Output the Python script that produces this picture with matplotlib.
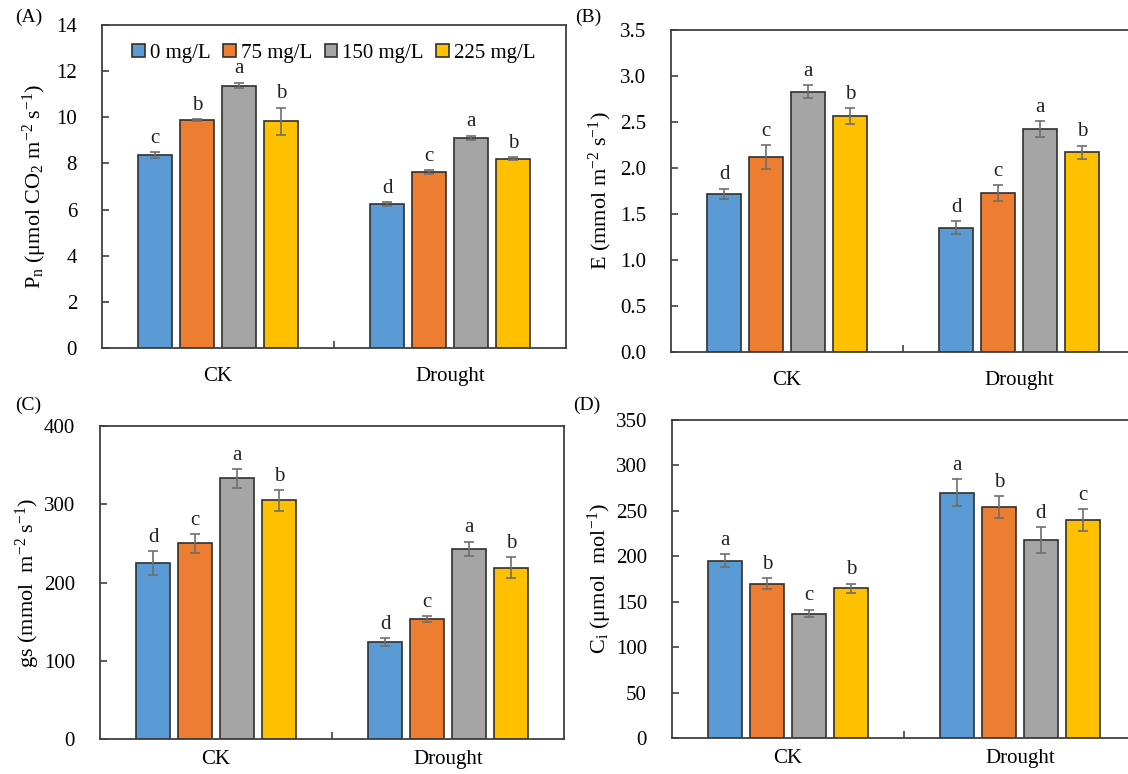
import matplotlib
matplotlib.use("Agg")
import matplotlib.pyplot as plt
import numpy as np

plt.rcParams['font.family'] = ['Liberation Serif', 'DejaVu Serif']
plt.rcParams['mathtext.fontset'] = 'custom'
plt.rcParams['mathtext.rm'] = 'Liberation Serif'
plt.rcParams['mathtext.it'] = 'Liberation Serif:italic'

groups = ["CK", "Drought"]
series = ["0 mg/L", "75 mg/L", "150 mg/L", "225 mg/L"]
colors = ["#5B9BD5", "#ED7D31", "#A5A5A5", "#FFC000"]

# Panel A: Pn
pn_vals = [[8.35, 6.23], [9.87, 7.63], [11.37, 9.10], [9.82, 8.20]]
pn_err = [[0.13, 0.08], [0.04, 0.07], [0.12, 0.10], [0.60, 0.06]]
pn_let = [["c", "d"], ["b", "c"], ["a", "a"], ["b", "b"]]

# Panel B: E
e_vals = [[1.72, 1.35], [2.12, 1.725], [2.83, 2.42], [2.56, 2.17]]
e_err = [[0.056, 0.07], [0.127, 0.087], [0.07, 0.087], [0.087, 0.07]]
e_let = [["d", "d"], ["c", "c"], ["a", "a"], ["b", "b"]]

# Panel C: gs
gs_vals = [[225, 124], [250, 153], [333, 243], [305, 219]]
gs_err = [[15, 5], [12, 4], [12, 9], [13, 13]]
gs_let = [["d", "d"], ["c", "c"], ["a", "a"], ["b", "b"]]

# Panel D: Ci
ci_vals = [[195, 270], [170, 254], [137, 218], [165, 240]]
ci_err = [[7, 15], [6, 12], [4, 14], [5, 12]]
ci_let = [["a", "a"], ["b", "b"], ["c", "d"], ["b", "c"]]

W, H = 1128, 774
fig = plt.figure(figsize=(W / 100, H / 100), dpi=100)

def ax_at(x0, y0, x1, y1):
    return fig.add_axes([x0 / W, 1 - y1 / H, (x1 - x0) / W, (y1 - y0) / H])

panels = [
    dict(box=(102, 25, 566, 348), vals=pn_vals, err=pn_err, let=pn_let, ylim=(0, 14), step=2,
         fmt="{:.0f}", ylabel=r"P$_\mathrm{n}$ (μmol CO$_\mathrm{2}$ m$^\mathrm{-2}$ s$^\mathrm{-1}$)",
         tag="(A)", tagpos=(15, 17), legend=True, lab_x=35, xpad=14),
    dict(box=(671, 30, 1135, 352), vals=e_vals, err=e_err, let=e_let, ylim=(0, 3.5), step=0.5,
         fmt="{:.1f}", ylabel=r"E (mmol m$^\mathrm{-2}$ s$^\mathrm{-1}$)",
         tag="(B)", tagpos=(575, 17), legend=False, lab_x=600, xpad=14),
    dict(box=(100, 426, 564, 739), vals=gs_vals, err=gs_err, let=gs_let, ylim=(0, 400), step=100,
         fmt="{:.0f}", ylabel=r"gs (mmol  m$^\mathrm{-2}$ s$^\mathrm{-1}$)",
         tag="(C)", tagpos=(15, 405), legend=False, lab_x=28, xpad=8),
    dict(box=(672, 420, 1136, 738), vals=ci_vals, err=ci_err, let=ci_let, ylim=(0, 350), step=50,
         fmt="{:.0f}", ylabel=r"C$_\mathrm{i}$ (μmol  mol$^\mathrm{-1}$)",
         tag="(D)", tagpos=(573, 405), legend=False, lab_x=600, xpad=8),
]

x = np.arange(len(groups))
offs = np.array([-1.5, -0.5, 0.5, 1.5]) * 0.181
bw = 0.148
spine_c = "#404040"

for p in panels:
    ax = ax_at(*p["box"])
    ymax = p["ylim"][1]
    for i in range(4):
        ax.bar(x + offs[i], p["vals"][i], bw, color=colors[i], edgecolor="#303030",
               linewidth=1.2, label=series[i], zorder=2)
        ax.errorbar(x + offs[i], p["vals"][i], yerr=p["err"][i], fmt="none",
                    ecolor="#6E6E6E", elinewidth=1.2, capsize=3.5, capthick=1.2, zorder=3)
        for j in range(len(groups)):
            ax.text(x[j] + offs[i], p["vals"][i][j] + p["err"][i][j] + ymax * 0.014,
                    p["let"][i][j], ha="center", va="bottom", fontsize=15, color="#222222")
    ax.set_xlim(-0.5, 1.5)
    ax.set_ylim(*p["ylim"])
    ticks = np.arange(0, ymax + p["step"] / 2, p["step"])
    ax.set_yticks(ticks)
    ax.set_yticklabels([p["fmt"].format(t) for t in ticks], fontsize=15)
    ax.set_xticks(x)
    ax.set_xticklabels(groups, fontsize=15)
    ax.set_xticks([0.5], minor=True)
    ax.tick_params(axis="x", which="major", length=0, pad=p["xpad"])
    ax.tick_params(axis="x", which="minor", direction="in", length=5, color=spine_c, width=1.2)
    ax.tick_params(axis="y", direction="in", length=5, color=spine_c, width=1.2, pad=18)
    for s in ax.spines.values():
        s.set_color(spine_c)
        s.set_linewidth(1.3)
    x0, y0, x1, y1 = p["box"]
    fig.text(p["lab_x"] / W, 1 - ((y0 + y1) / 2) / H, p["ylabel"], rotation=90,
             ha="center", va="center", fontsize=16)
    fig.text(p["tagpos"][0] / W, 1 - p["tagpos"][1] / H, p["tag"], ha="left", va="center", fontsize=14)
    if p["legend"]:
        ax.legend(loc="upper center", bbox_to_anchor=(0.5, 1.0), ncol=4, frameon=False,
                  fontsize=15, handlelength=0.6, handleheight=0.6, handletextpad=0.25,
                  columnspacing=0.6, borderaxespad=0.5)

fig.savefig("out.png", dpi=100)
